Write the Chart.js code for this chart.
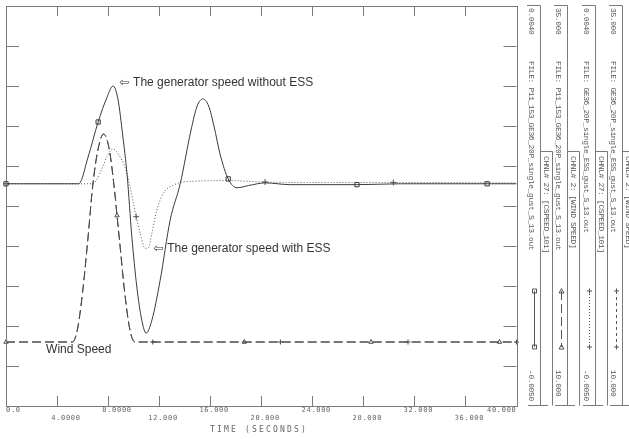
<!DOCTYPE html>
<html>
<head>
<meta charset="utf-8">
<title>Generator speed with and without ESS</title>
<script src="https://cdn.jsdelivr.net/npm/chart.js@4.4.1/dist/chart.umd.min.js"></script>
<style>
  html, body { margin: 0; padding: 0; background: #fff; }
  #wrap { position: relative; width: 629px; height: 439px; overflow: hidden; }
  #plot { position: absolute; left: 0; top: 0; }
  .vt {
    position: absolute;
    writing-mode: vertical-rl;
    font-family: "Liberation Mono", "DejaVu Sans Mono", monospace;
    font-size: 8px;
    letter-spacing: -0.4px;
    line-height: 11px;
    width: 11px;
    color: #555;
    white-space: nowrap;
  }
  #xtitle {
    position: absolute; left: 0; top: 425px; width: 518px;
    text-align: center; line-height: 9px;
    font-family: "DejaVu Sans Mono", monospace; font-size: 8px;
    letter-spacing: 2.2px; color: #666;
  }
</style>
</head>
<body>
<div id="wrap">
  <canvas id="plot" width="629" height="439"></canvas>
  <div id="legend"></div>
  <div id="xtitle">TIME (SECONDS)</div>
</div>
<script>
// Generator speed deviation (pu) without ESS - CHNL 27 of P11_153 run
const timeNoEss = [0, 5.7, 6.43, 7.22, 7.92, 8.39, 8.78, 9.14, 9.49, 9.86, 10.25, 10.64, 10.98, 11.43,
  12.08, 12.86, 13.65, 14.5, 14.98, 15.43, 15.88, 16.31, 16.78, 17.41, 18.1, 19.0, 20.3, 22.3, 27.5, 30.9, 37.7, 40];
const speedNoEss = [0, 0, 0.0006, 0.00139, 0.00195, 0.0022, 0.00189, 0.0011, 0.0002, -0.00119, -0.00232, -0.00307, -0.00336, -0.00307,
  -0.00217, -0.00082, 0, 0.00121, 0.00175, 0.00191, 0.00175, 0.00128, 0.00066, 0.00011, -0.00009, -0.00004, 0.00002, -0.00002, -0.00002, 0, 0, 0];

// Generator speed deviation (pu) with ESS
const timeEss = [0, 6.8, 7.37, 7.9, 8.37, 8.94, 9.47, 9.98, 10.2, 10.51, 10.9, 11.14, 11.43, 11.82, 12.34, 13.12, 14.17, 17.41, 20.3, 23.0, 30.35, 40];
const speedEss = [0, 0, 0.00024, 0.0006, 0.00078, 0.0006, 0.00024, -0.00043, -0.00074, -0.00111, -0.00145, -0.00145, -0.00111, -0.00059,
  -0.00021, -0.00003, 0.00005, 0.00007, 0.00004, 0.00003, 0.00003, 0.00002];

// Wind speed (m/s), same gust in both runs
const timeWind = [0, 5.2, 5.6, 6.0, 6.4, 6.8, 7.2, 7.65, 8.1, 8.5, 8.7, 8.9, 9.3, 9.7, 10.1, 11.5, 18.67, 21.5, 28.6, 31.5, 38.67, 40];
const windSpeed = [14, 14, 14.8, 17.1, 20.3, 23.8, 26.0, 27.0, 26.0, 23.5, 21.9, 20.3, 17.1, 14.8, 14, 14, 14, 14, 14, 14, 14, 14];

// times where the plotter put a symbol on each curve
const markNoEss = [0, 7.22, 17.41, 27.5, 37.7];
const markWindA = [0, 8.7, 18.67, 28.6, 38.67];
const markEss = [0, 10.2, 20.3, 30.35];
const markWindB = [11.5, 21.5, 31.5, 40];

// axes
const xTicks = [0, 4, 8, 12, 16, 20, 24, 28, 32, 36, 40];
const xTickLabels = ["0.0", "4.0000", "8.0000", "12.000", "16.000", "20.000", "24.000", "28.000", "32.000", "36.000", "40.000"];
const windTicks = [10, 12.5, 15, 17.5, 20, 22.5, 25, 27.5, 30, 32.5, 35];

// legend strips on the right
const legendFiles = [
  "FILE: P11_153_GE36_20P_single_gust_S_13.out",
  "FILE: P11_153_GE36_20P_single_gust_S_13.out",
  "FILE: GE36_20P_single_ESS_gust_S_13.out",
  "FILE: GE36_20P_single_ESS_gust_S_13.out",
];
const legendChannels = ["CHNL# 27: [CSPEED_101]", "CHNL# 2: [WIND SPEED]", "CHNL# 27: [CSPEED_101]", "CHNL# 2: [WIND SPEED]"];
const legendMax = ["0.0040", "35.000", "0.0040", "35.000"];
const legendMin = ["-0.0050", "10.000", "-0.0050", "10.000"];

const stripLeft = 525;
const stripStep = 27.3;
const lineGrey = "#7a7a7a";

function pts(times, values) {
  return times.map((t, i) => ({ x: t, y: values[i] }));
}

function markerRadius(marks, r) {
  return (c) => (c.raw && marks.includes(c.raw.x) ? r : 0);
}

function drawMark(ctx, style, x, y) {
  ctx.beginPath();
  if (style === "rect") {
    ctx.rect(x - 2, y - 2, 4, 4);
  } else if (style === "triangle") {
    ctx.moveTo(x, y - 2.5);
    ctx.lineTo(x + 2.5, y + 2);
    ctx.lineTo(x - 2.5, y + 2);
    ctx.closePath();
  } else {
    ctx.moveTo(x - 2.5, y);
    ctx.lineTo(x + 2.5, y);
    ctx.moveTo(x, y - 2.5);
    ctx.lineTo(x, y + 2.5);
  }
  ctx.stroke();
}

function seg(ctx, x1, y1, x2, y2) {
  ctx.moveTo(x1, y1);
  ctx.lineTo(x2, y2);
}

// Frame, inside ticks, tick labels, legend rules and the text notes
const framePlugin = {
  id: "frame",
  afterDatasetsDraw(chart) {
    const { ctx, chartArea: a, scales } = chart;
    const xs = scales.x;
    const yw = scales.yWind;
    const ys = scales.ySpeed;

    ctx.save();
    ctx.strokeStyle = lineGrey;
    ctx.lineWidth = 1;
    ctx.setLineDash([]);
    ctx.strokeRect(Math.round(a.left) + 0.5, Math.round(a.top) + 0.5,
      Math.round(a.right - a.left), Math.round(a.bottom - a.top));

    ctx.beginPath();
    xTicks.forEach((v) => {
      const px = Math.round(xs.getPixelForValue(v)) + 0.5;
      seg(ctx, px, a.top, px, a.top + 10);
      seg(ctx, px, a.bottom, px, a.bottom - 10);
    });
    windTicks.forEach((v) => {
      const py = Math.round(yw.getPixelForValue(v)) + 0.5;
      seg(ctx, a.left, py, a.left + 13, py);
      seg(ctx, a.right, py, a.right - 13, py);
    });
    ctx.stroke();

    // x tick labels, two staggered rows, decimal point on the tick
    ctx.font = '7px "DejaVu Sans Mono", monospace';
    ctx.letterSpacing = "0.7px";
    ctx.fillStyle = "#666";
    ctx.textBaseline = "middle";
    ctx.textAlign = "left";
    xTickLabels.forEach((label, i) => {
      const w = ctx.measureText(label).width;
      const cw = w / label.length;
      const px = xs.getPixelForValue(xTicks[i]);
      let left = px - (label.indexOf(".") + 0.5) * cw + 1.5;
      if (i === 0) left = a.left;
      if (i === xTickLabels.length - 1) left = a.right - w;
      ctx.fillText(label, left, i % 2 === 0 ? 410 : 418);
    });
    ctx.letterSpacing = "0px";

    // legend rules and line samples
    const sampleStyle = [
      { dash: [], mark: "rect" },
      { dash: [9, 4], mark: "triangle" },
      { dash: [1, 2], mark: "cross" },
      { dash: [3, 3], mark: "cross" },
    ];
    legendFiles.forEach((f, i) => {
      const b = Math.round(stripLeft + i * stripStep);
      ctx.strokeStyle = lineGrey;
      ctx.setLineDash([]);
      ctx.beginPath();
      seg(ctx, b + 2, 5.5, b + 15.5, 5.5);
      seg(ctx, b + 15.5, 5.5, b + 15.5, 405.5);
      seg(ctx, b + 3, 405.5, b + 23, 405.5);
      seg(ctx, b + 15.5, 151.5, b + 27.5, 151.5);
      seg(ctx, b + 27.5, 151.5, b + 27.5, 405.5);
      ctx.stroke();

      const sx = b + 9.5;
      ctx.strokeStyle = "#555";
      ctx.setLineDash(sampleStyle[i].dash);
      ctx.beginPath();
      seg(ctx, sx, 291, sx, 347);
      ctx.stroke();
      ctx.setLineDash([]);
      drawMark(ctx, sampleStyle[i].mark, sx, 291);
      drawMark(ctx, sampleStyle[i].mark, sx, 347);
    });

    // notes on the curves
    ctx.fillStyle = "#333";
    ctx.textBaseline = "middle";
    const notes = [
      { t: 8.86, v: 0.00227, axis: ys, text: "The generator speed without ESS", arrow: true },
      { t: 11.53, v: -0.00147, axis: ys, text: "The generator speed with ESS", arrow: true },
      { t: 3.14, v: 13.5, axis: yw, text: "Wind Speed", arrow: false },
    ];
    notes.forEach((n) => {
      let px = xs.getPixelForValue(n.t);
      const py = n.axis.getPixelForValue(n.v);
      if (n.arrow) {
        ctx.font = '12px "DejaVu Sans", sans-serif';
        ctx.fillText("\u21E6", px, py);
        px += 14;
      }
      ctx.font = '12px "Liberation Sans", Arial, sans-serif';
      ctx.fillText(n.text, px, py);
    });
    ctx.restore();
  },
};

const ctx = document.getElementById("plot");

new Chart(ctx, {
  type: "line",
  data: {
    datasets: [
      {
        label: "CSPEED_101 without ESS",
        data: pts(timeNoEss, speedNoEss),
        yAxisID: "ySpeed",
        borderColor: "#3a3a3a",
        borderWidth: 1,
        pointStyle: "rect",
        pointRadius: markerRadius(markNoEss, 3),
        pointBorderColor: "#3a3a3a",
        pointBackgroundColor: "rgba(0,0,0,0)",
        pointBorderWidth: 1,
        cubicInterpolationMode: "monotone",
        clip: 6,
      },
      {
        label: "WIND SPEED (P11_153)",
        data: pts(timeWind, windSpeed),
        yAxisID: "yWind",
        borderColor: "#4a4a4a",
        borderWidth: 1,
        borderDash: [9, 4],
        pointStyle: "triangle",
        pointRadius: markerRadius(markWindA, 2.5),
        pointBorderColor: "#4a4a4a",
        pointBackgroundColor: "rgba(0,0,0,0)",
        pointBorderWidth: 1,
        cubicInterpolationMode: "monotone",
        clip: 6,
      },
      {
        label: "CSPEED_101 with ESS",
        data: pts(timeEss, speedEss),
        yAxisID: "ySpeed",
        borderColor: "#555",
        borderWidth: 1,
        borderDash: [1, 2],
        pointStyle: "cross",
        pointRadius: markerRadius(markEss, 3),
        pointBorderColor: "#555",
        pointBorderWidth: 1,
        cubicInterpolationMode: "monotone",
        clip: 6,
      },
      {
        label: "WIND SPEED (ESS)",
        data: pts(timeWind, windSpeed),
        yAxisID: "yWind",
        borderColor: "#4a4a4a",
        borderWidth: 1,
        borderDash: [9, 4],
        pointStyle: "cross",
        pointRadius: markerRadius(markWindB, 2.5),
        pointBorderColor: "#4a4a4a",
        pointBorderWidth: 1,
        cubicInterpolationMode: "monotone",
        clip: 6,
      },
    ],
  },
  options: {
    responsive: false,
    animation: false,
    devicePixelRatio: 1,
    events: [],
    layout: { padding: { left: 6, top: 6, right: 112.5, bottom: 33 } },
    plugins: {
      legend: { display: false },
      tooltip: { enabled: false },
    },
    scales: {
      x: { type: "linear", min: 0, max: 40, display: false },
      ySpeed: { type: "linear", min: -0.005, max: 0.004, display: false },
      yWind: { type: "linear", min: 10, max: 35, display: false },
    },
  },
  plugins: [framePlugin],
});

// rotated legend text
const legendBox = document.getElementById("legend");
function addText(txt, left, top) {
  const d = document.createElement("div");
  d.className = "vt";
  d.textContent = txt;
  d.style.left = left + "px";
  d.style.top = top + "px";
  legendBox.appendChild(d);
}
legendFiles.forEach((file, i) => {
  const b = Math.round(stripLeft + i * stripStep);
  addText(legendMax[i], b + 0.5, 8);
  addText(file, b + 0.5, 61);
  addText(legendMin[i], b + 0.5, 370);
  addText(legendChannels[i], b + 15.5, 156);
});
</script>
</body>
</html>
